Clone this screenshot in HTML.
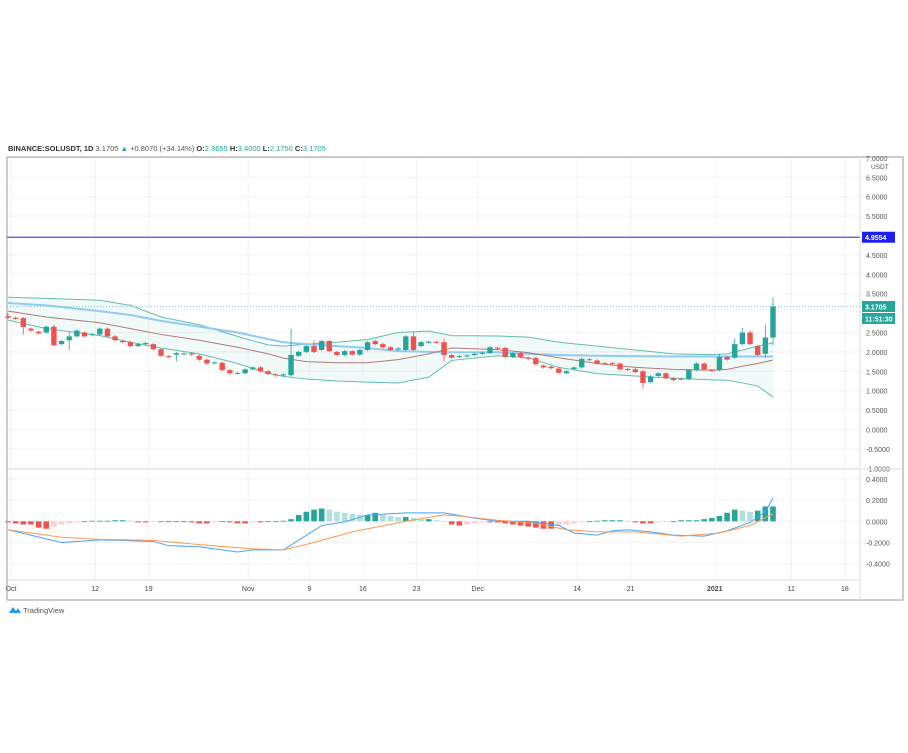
<!DOCTYPE html>
<html><head><meta charset="utf-8"><style>
body{margin:0;background:#fff;width:908px;height:748px;overflow:hidden;font-family:"Liberation Sans",sans-serif}
svg text{font-family:"Liberation Sans",sans-serif}
</style></head><body>
<svg id="c" width="908" height="748" viewBox="0 0 908 748">
<text x="8" y="151" font-size="7.5" fill="#333"><tspan font-weight="bold">BINANCE:SOLUSDT, 1D</tspan> <tspan fill="#555">3.1705</tspan> <tspan fill="#26a69a">▲</tspan> <tspan fill="#555">+0.8070 (+34.14%)</tspan> <tspan font-weight="bold">O:</tspan><tspan fill="#26a69a">2.3655</tspan> <tspan font-weight="bold">H:</tspan><tspan fill="#26a69a">3.4000</tspan> <tspan font-weight="bold">L:</tspan><tspan fill="#26a69a">2.1750</tspan> <tspan font-weight="bold">C:</tspan><tspan fill="#26a69a">3.1705</tspan></text>
<g id="grid"></g><g id="bands"></g><g id="marks"></g><g id="macd"></g><g id="axes"></g>
<rect x="7" y="157" width="896" height="443" fill="none" stroke="#9a9a9a" stroke-width="1"/>
<line x1="7" y1="469" x2="903" y2="469" stroke="#ddd"/>
<line x1="7" y1="580" x2="860" y2="580" stroke="#ddd"/>
<line x1="860" y1="157" x2="860" y2="600" stroke="#ddd"/>
<g><path d="M9 613 l4 -6 l3 4 l2 -3 l3 5 z" fill="#2196f3"/><text x="23" y="613" font-size="7.5" fill="#555">TradingView</text></g>
</svg>
<script>
const opens=[2.92,2.88,2.87,2.6,2.52,2.5,2.65,2.2,2.3,2.4,2.5,2.43,2.45,2.6,2.4,2.28,2.25,2.15,2.2,2.2,2.07,1.89,1.93,1.95,1.96,1.9,1.8,1.71,1.72,1.53,1.45,1.45,1.55,1.6,1.5,1.42,1.4,1.4,1.9,2.0,2.15,2.05,2.28,2.0,1.92,2.02,1.93,2.05,2.28,2.2,2.12,2.06,2.05,2.4,2.15,2.24,2.26,2.25,1.92,1.87,1.89,1.92,1.95,1.97,2.11,2.1,1.87,1.97,1.85,1.84,1.65,1.62,1.57,1.45,1.56,1.6,1.8,1.78,1.71,1.71,1.7,1.56,1.55,1.5,1.22,1.38,1.45,1.32,1.31,1.3,1.53,1.7,1.53,1.53,1.87,1.85,2.2,2.5,2.15,1.95,2.37];
const closes=[2.88,2.85,2.64,2.55,2.48,2.65,2.17,2.28,2.4,2.55,2.4,2.46,2.6,2.4,2.3,2.25,2.15,2.2,2.23,2.07,1.9,1.88,1.97,1.96,1.93,1.8,1.7,1.73,1.53,1.45,1.46,1.55,1.6,1.5,1.43,1.4,1.42,1.92,2.0,2.15,2.0,2.28,2.02,1.92,2.02,1.93,2.05,2.25,2.2,2.12,2.05,2.09,2.4,2.05,2.25,2.26,2.24,1.92,1.85,1.89,1.91,1.95,1.98,2.12,2.09,1.87,1.97,1.87,1.83,1.68,1.6,1.58,1.46,1.5,1.6,1.82,1.81,1.7,1.7,1.69,1.55,1.54,1.48,1.2,1.37,1.45,1.32,1.27,1.29,1.53,1.7,1.55,1.52,1.87,1.8,2.2,2.5,2.2,1.92,2.37,3.17];
const wickHi=[[0,3.0],[6,2.7],[8,2.5],[37,2.6],[40,2.3],[53,2.5],[57,2.35],[93,1.95],[95,2.35],[96,2.62],[97,2.55],[99,2.7],[100,3.4]];
const wickLo=[[2,2.45],[8,2.05],[22,1.75],[35,1.35],[57,1.75],[83,1.05],[99,1.85],[100,2.17]];
const bandIdx=[0,5,12,16,20,25,30,34,36,39,43,47,51,55,58,64,68,72,77,82,87,92,94,96,98,100];
const bbUpper=[3.41,3.38,3.33,3.2,2.9,2.7,2.4,2.18,2.15,2.2,2.25,2.32,2.5,2.54,2.42,2.41,2.38,2.25,2.15,2.05,1.95,1.93,1.95,2.05,2.15,2.23];
const bbLower=[2.82,2.6,2.42,2.25,2.1,1.95,1.7,1.45,1.37,1.3,1.25,1.22,1.2,1.35,1.78,1.9,1.85,1.6,1.44,1.38,1.32,1.28,1.27,1.2,1.12,0.84];
const bbMid=[3.05,2.9,2.75,2.6,2.45,2.3,2.12,1.95,1.84,1.75,1.72,1.72,1.8,1.95,2.1,2.06,1.98,1.85,1.7,1.6,1.55,1.53,1.55,1.63,1.7,1.79];
const maLine=[3.26,3.2,3.05,2.95,2.8,2.65,2.5,2.33,2.25,2.2,2.15,2.1,2.02,2.0,1.99,1.99,1.95,1.92,1.9,1.89,1.88,1.88,1.88,1.88,1.88,1.88];
const hist=[-0.01,-0.02,-0.03,-0.03,-0.06,-0.07,-0.05,-0.03,-0.02,-0.01,0,0.005,0.005,0.005,0.01,0.01,0.005,-0.01,-0.01,-0.005,0,0,0,0,-0.01,-0.02,-0.02,-0.01,0,-0.01,-0.02,-0.02,-0.01,-0.01,0,0,0.005,0.02,0.06,0.09,0.11,0.12,0.11,0.09,0.08,0.07,0.06,0.06,0.08,0.06,0.05,0.04,0.04,0.03,0.02,0.02,0.01,0,-0.03,-0.04,-0.03,-0.02,-0.01,-0.01,-0.01,-0.02,-0.03,-0.04,-0.05,-0.06,-0.07,-0.07,-0.04,-0.03,-0.02,-0.01,0,0.005,0.01,0.01,0.01,0.005,-0.01,-0.02,-0.02,-0.01,-0.005,0,0.01,0.01,0.01,0.02,0.03,0.05,0.08,0.11,0.1,0.09,0.1,0.14,0.14];
const macdIdx=[0,7,12,19,21,25,30,32,36,41,44,47,52,57,61,64,68,72,74,77,79,81,84,87,91,94,97,99,100];
const macdVals=[-0.08,-0.2,-0.175,-0.19,-0.23,-0.24,-0.29,-0.27,-0.27,-0.04,-0.005,0.06,0.08,0.08,0.03,0,0,-0.04,-0.11,-0.13,-0.09,-0.08,-0.1,-0.13,-0.14,-0.09,-0.01,0.09,0.22];
const sigIdx=[0,7,12,19,25,32,36,40,45,52,57,59,64,69,73,77,82,88,93,97,100];
const sigVals=[-0.08,-0.15,-0.17,-0.18,-0.22,-0.26,-0.27,-0.2,-0.1,0,0.06,0.05,0.01,-0.02,-0.08,-0.1,-0.1,-0.14,-0.11,-0.04,0.07];
const priceTicks=["7.0000","6.5000","6.0000","5.5000","4.5000","4.0000","3.5000","2.5000","2.0000","1.5000","1.0000","0.5000","0.0000","-0.5000","-1.0000"];
const macdTicks=["0.4000","0.2000","0.0000","-0.2000","-0.4000"];
const timeLabels=["Oct","12","19","Nov","9","16","23","Dec","14","21","2021","11","18"];
const timeDays=[0,11,18,31,39,46,53,61,74,81,92,102,109];
const alertLevel=4.9554, lastPrice=3.1705;

const NS="http://www.w3.org/2000/svg";
const py=v=>390.7-(v-1)*38.8;
const my=v=>521.3-v*106;
const x=i=>8+i*7.65;
function mk(t,a,p){const e=document.createElementNS(NS,t);for(const k in a)e.setAttribute(k,a[k]);p.appendChild(e);return e;}
const G=document.getElementById('grid'),B=document.getElementById('bands'),M=document.getElementById('marks'),D=document.getElementById('macd'),A=document.getElementById('axes');
priceTicks.forEach(t=>{const v=parseFloat(t),y=py(v);
 mk('line',{x1:7,x2:860,y1:y,y2:y,stroke:'#f2f2f2'},G);
 const tx=mk('text',{x:866,y:y+3,'font-size':7,fill:'#555'},A);tx.textContent=t;
 
 });
const u=mk('text',{x:871,y:169,'font-size':6.5,fill:'#555'},A);u.textContent='USDT';


macdTicks.forEach(t=>{const v=parseFloat(t),y=my(v);
 mk('line',{x1:7,x2:860,y1:y,y2:y,stroke:'#f2f2f2'},G);
 const tx=mk('text',{x:866,y:y+3,'font-size':7,fill:'#555'},A);tx.textContent=t;
 
 });
timeLabels.forEach((t,i)=>{const xx=x(timeDays[i])+3;
 mk('line',{x1:xx,x2:xx,y1:157,y2:580,stroke:'#f2f2f2'},G);
 const tx=mk('text',{x:xx,y:591,'font-size':7,fill:'#444','text-anchor':'middle','font-weight':t==='2021'?'bold':'normal'},A);tx.textContent=t;
 
 });
// bands
const pts=(arr,f)=>bandIdx.map((k,j)=>x(k)+','+f(arr[j])).join(' ');
const fill=mk('polygon',{points:pts(bbUpper,py)+' '+bandIdx.slice().reverse().map((k,j)=>x(k)+','+py(bbLower[bandIdx.length-1-j])).join(' '),fill:'#26a69a',opacity:0.06},B);


[[bbUpper,'#5fbfae',1,'bollinger-upper'],[bbLower,'#5fbfae',1,'bollinger-lower'],[maLine,'#90caf9',2,'moving-average'],[bbMid,'#b07a78',1,'bollinger-basis']].forEach(([a,c,w,n])=>{
 const l=mk('polyline',{points:pts(a,py),fill:'none',stroke:c,'stroke-width':w},B);
 
 });
// alert + last price lines
const al=mk('line',{x1:7,x2:860,y1:py(alertLevel),y2:py(alertLevel),stroke:'#4a4af0','stroke-width':1.2},B);


const ll=mk('line',{x1:7,x2:860,y1:py(lastPrice),y2:py(lastPrice),stroke:'#80cbc4','stroke-dasharray':'1,2'},B);


// candles
opens.forEach((o,i)=>{const c=closes[i];const up=c>=o;const col=up?'#26a69a':'#ef5350';
 let hi=Math.max(o,c)+0.03,lo=Math.min(o,c)-0.03;
 wickHi.forEach(w=>{if(w[0]===i)hi=w[1];});wickLo.forEach(w=>{if(w[0]===i)lo=w[1];});
 const g=mk('g',{},M);
 
 
 mk('line',{x1:x(i),x2:x(i),y1:py(hi),y2:py(lo),stroke:col,'stroke-width':0.8},g);
 const t=py(Math.max(o,c)),b=py(Math.min(o,c));
 mk('rect',{x:x(i)-2.7,y:t,width:5.4,height:Math.max(b-t,1),fill:col},g);});
// macd hist
hist.forEach((v,i)=>{const prev=i>0?hist[i-1]:0;let col;
 if(v>=0)col=v>=prev?'#26a69a':'#b2dfdb';else col=v<=prev?'#ef5350':'#ffcdd2';
 const r=mk('rect',{x:x(i)-2.8,y:Math.min(my(v),my(0)),width:5.6,height:Math.max(Math.abs(my(v)-my(0)),0.8),fill:col},D);
 
 });
const ml=mk('polyline',{points:macdIdx.map((k,j)=>x(k)+','+my(macdVals[j])).join(' '),fill:'none',stroke:'#42a5f5','stroke-width':1},D);


const sl=mk('polyline',{points:sigIdx.map((k,j)=>x(k)+','+my(sigVals[j])).join(' '),fill:'none',stroke:'#ff9850','stroke-width':1},D);


// axis labels boxes
function box(y,txt,bg,n){const g=mk('g',{},A);
 
 
 mk('rect',{x:862,y:y-5.5,width:33,height:11,fill:bg},g);
 const t=mk('text',{x:865,y:y+3,'font-size':7,fill:'#fff','font-weight':'bold'},g);t.textContent=txt;}
box(py(alertLevel),alertLevel.toFixed(4),'#1e1ef0','alert-price-label');
box(py(lastPrice),lastPrice.toFixed(4),'#26a69a','last-price-label');
box(py(lastPrice)+12,'11:51:30','#26a69a','countdown-label');
</script>
</body></html>
